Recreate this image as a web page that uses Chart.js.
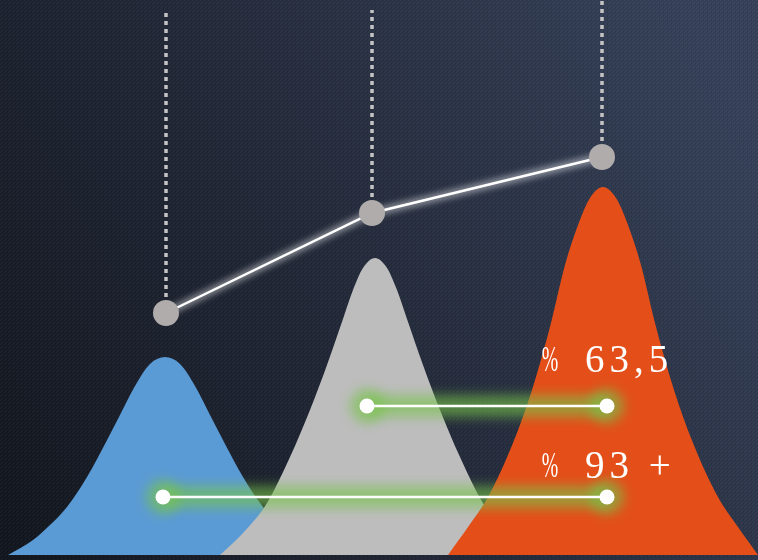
<!DOCTYPE html>
<html>
<head>
<meta charset="utf-8">
<script src="https://cdn.jsdelivr.net/npm/chart.js@4.4.0/dist/chart.umd.min.js"></script>
<style>
    html, body { margin: 0; padding: 0; background: #1b202c; }
    #wrap { width: 758px; height: 560px; position: relative; }
</style>
</head>
<body>
<div id="wrap"><canvas id="chart"></canvas></div>
<script>
// bell shapes (x position, height)
const blueX = [8, 33, 50, 67, 87, 105, 120, 135, 150, 165, 180, 195, 210, 225, 243, 263, 280, 297, 322];
const blueY = [0, 15, 30, 48, 78, 111, 140, 169, 191, 198, 191, 169, 140, 111, 78, 48, 30, 15, 0];
const grayX = [220, 243, 267, 290, 310, 327, 343, 353, 363, 375, 387, 397, 407, 423, 440, 460, 483, 507, 530];
const grayY = [0, 22, 52, 98, 145, 190, 236, 265, 287, 297, 287, 265, 236, 190, 145, 98, 52, 22, 0];
const orangeX = [448, 468, 488, 513, 532, 551, 565, 578, 590, 603, 616, 628, 641, 655, 674, 693, 718, 738, 758];
const orangeY = [0, 28, 58, 112, 165, 232, 290, 330, 357, 368, 357, 330, 290, 232, 165, 112, 58, 28, 0];

// trend line and its drop lines
const trendX = [166, 372, 602];
const trendY = [242, 342, 398];
const dropTop = [542, 545, 560];

// the two green comparison bars
const barStart = [367, 163];
const barEnd = [607, 607];
const barY = [149, 58];
const barLabels = ['63,5', '93 +'];

function pts(xs, ys) {
    return xs.map(function(x, i) { return { x: x, y: ys[i] }; });
}

function dropPoints() {
    const out = [];
    trendX.forEach(function(x, i) {
        out.push({ x: x, y: trendY[i] });
        out.push({ x: x, y: dropTop[i] });
        out.push({ x: x, y: null });
    });
    return out;
}

function barPoints() {
    const out = [];
    barY.forEach(function(y, i) {
        out.push({ x: barStart[i], y: y });
        out.push({ x: barEnd[i], y: y });
        out.push({ x: barEnd[i], y: null });
    });
    return out;
}

function bell(xs, ys, color, order) {
    return {
        data: pts(xs, ys),
        backgroundColor: color,
        borderWidth: 0,
        pointRadius: 0,
        fill: 'origin',
        cubicInterpolationMode: 'monotone',
        order: order
    };
}

// background: diagonal gradient + a faint woven texture
const backgroundPlugin = {
    id: 'background',
    beforeDraw: function(chart) {
        const ctx = chart.ctx;
        const w = chart.width, h = chart.height;
        ctx.save();
        const g = ctx.createLinearGradient(0, h, w, 120);
        g.addColorStop(0, '#12161e');
        g.addColorStop(0.45, '#222837');
        g.addColorStop(1, '#37425a');
        ctx.fillStyle = g;
        ctx.fillRect(0, 0, w, h);

        const tile = document.createElement('canvas');
        tile.width = 4;
        tile.height = 4;
        const t = tile.getContext('2d');
        t.fillStyle = 'rgba(255,255,255,0.035)';
        t.fillRect(0, 0, 1, 1);
        t.fillRect(2, 2, 1, 1);
        t.fillRect(1, 3, 1, 1);
        t.fillStyle = 'rgba(0,0,0,0.10)';
        t.fillRect(1, 1, 1, 1);
        t.fillRect(3, 3, 1, 1);
        t.fillRect(3, 0, 1, 1);
        ctx.fillStyle = ctx.createPattern(tile, 'repeat');
        ctx.fillRect(0, 0, w, h);
        ctx.restore();
    }
};

// soft glow for datasets that ask for it
const glowPlugin = {
    id: 'glow',
    beforeDatasetDraw: function(chart, args) {
        const ds = chart.data.datasets[args.index];
        if (ds.glowBlur) {
            chart.ctx.save();
            chart.ctx.filter = 'blur(' + ds.glowBlur + 'px)';
        }
    },
    afterDatasetDraw: function(chart, args) {
        const ds = chart.data.datasets[args.index];
        if (ds.glowBlur) chart.ctx.restore();
    }
};

// percentage labels above each green bar
const labelPlugin = {
    id: 'barLabels',
    afterDatasetsDraw: function(chart) {
        const ctx = chart.ctx;
        const xs = chart.scales.x, ys = chart.scales.y;
        const lift = [34, 19];
        ctx.save();
        ctx.fillStyle = '#ffffff';
        ctx.textBaseline = 'alphabetic';
        barLabels.forEach(function(text, i) {
            const y = ys.getPixelForValue(barY[i]) - lift[i];
            const x = xs.getPixelForValue(barEnd[i]) - 22;
            ctx.font = '39px "Liberation Serif", "DejaVu Serif", serif';
            ctx.textAlign = 'left';
            ctx.letterSpacing = '5px';
            ctx.fillText(text, x, y);
            ctx.letterSpacing = '0px';
            ctx.save();
            ctx.translate(x - 35, y - 1);
            ctx.scale(0.55, 1);
            ctx.font = '36px "Liberation Serif", "DejaVu Serif", serif';
            ctx.textAlign = 'center';
            ctx.fillText('%', 0, 0);
            ctx.restore();
        });
        ctx.restore();
    }
};

const ctx = document.getElementById('chart');
new Chart(ctx, {
    type: 'line',
    data: {
        datasets: [
            bell(blueX, blueY, '#5b9bd5', 9),
            bell(grayX, grayY, '#bdbdbd', 8),
            bell(orangeX, orangeY, '#e44f19', 7),
            {
                data: dropPoints(),
                borderColor: '#c4c4c4',
                borderWidth: 3.5,
                borderDash: [4, 4],
                pointRadius: 0,
                spanGaps: false,
                fill: false,
                order: 6
            },
            {
                data: pts(trendX, trendY),
                borderColor: 'rgba(255,255,255,0.45)',
                borderWidth: 8,
                pointRadius: 0,
                fill: false,
                glowBlur: 3,
                order: 5
            },
            {
                data: pts(trendX, trendY),
                borderColor: '#ffffff',
                borderWidth: 2.5,
                pointRadius: 13,
                pointBackgroundColor: '#b0acac',
                pointBorderWidth: 0,
                fill: false,
                order: 4
            },
            {
                data: barPoints(),
                borderColor: 'rgba(120,195,75,0.62)',
                borderWidth: 22,
                pointRadius: 17,
                pointBackgroundColor: 'rgba(120,195,75,0.62)',
                pointBorderWidth: 0,
                spanGaps: false,
                fill: false,
                glowBlur: 6,
                order: 3
            },
            {
                data: barPoints(),
                borderColor: '#ffffff',
                borderWidth: 2.5,
                pointRadius: 7.5,
                pointBackgroundColor: '#ffffff',
                pointBorderWidth: 0,
                spanGaps: false,
                fill: false,
                order: 2
            }
        ]
    },
    options: {
        responsive: true,
        maintainAspectRatio: false,
        animation: false,
        layout: { autoPadding: false, padding: { top: 0, left: 0, right: 0, bottom: 5 } },
        plugins: {
            legend: { display: false },
            tooltip: { enabled: false }
        },
        scales: {
            x: { type: 'linear', min: 0, max: 758, display: false },
            y: { type: 'linear', min: 0, max: 555, display: false }
        }
    },
    plugins: [backgroundPlugin, glowPlugin, labelPlugin]
});
</script>
</body>
</html>
